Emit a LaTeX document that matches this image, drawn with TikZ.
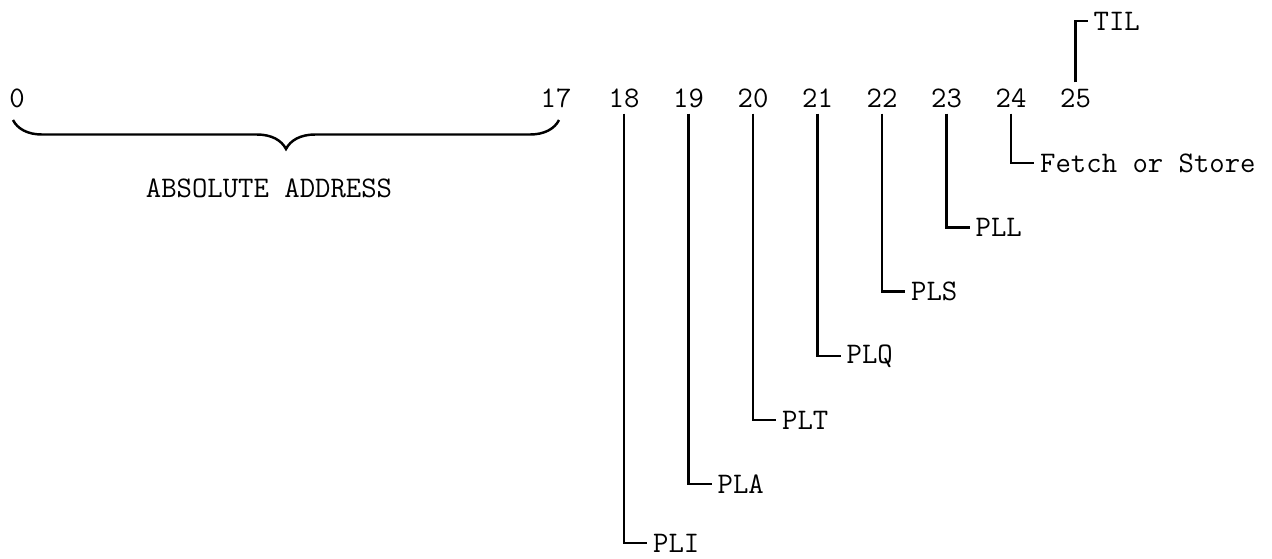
\documentclass[tikz,border=0pt]{standalone}
\usetikzlibrary{decorations.pathreplacing}
\begin{document}
\begin{tikzpicture}[x=1cm,y=1cm]
\tikzset{
    bit/.style={font=\fontsize{17}{20}\selectfont\ttfamily},
    flag/.style={font=\fontsize{17}{20}\selectfont\ttfamily,anchor=west},
    lead/.style={line width=1.4pt},
    bracket/.style={line width=1.4pt,decorate,decoration={brace,mirror,amplitude=0.58cm}}
}
\useasboundingbox (0,0) rectangle (25.44,-11.16);
% bit numbers
\node[bit] (b0) at (0.34,-1.96) {0};
\node[bit] (b17) at (11.12,-1.96) {17};
\node[bit] (b18) at (12.48,-1.96) {18};
\node[bit] (b19) at (13.77,-1.96) {19};
\node[bit] (b20) at (15.06,-1.96) {20};
\node[bit] (b21) at (16.35,-1.96) {21};
\node[bit] (b22) at (17.64,-1.96) {22};
\node[bit] (b23) at (18.93,-1.96) {23};
\node[bit] (b24) at (20.22,-1.96) {24};
\node[bit] (b25) at (21.51,-1.96) {25};

% address field
\coordinate (brl) at (0.26,-2.40);
\coordinate (brr) at (11.18,-2.40);
\draw[bracket] (brl) -- (brr);
\node[bit] (addr) at (5.38,-3.76) {ABSOLUTE ADDRESS};

% single-bit fields
\node[flag] (pli) at (12.94,-10.86) {PLI};
\node[flag] (pla) at (14.23,-9.68) {PLA};
\node[flag] (plt) at (15.52,-8.40) {PLT};
\node[flag] (plq) at (16.81,-7.12) {PLQ};
\node[flag] (pls) at (18.10,-5.83) {PLS};
\node[flag] (pll) at (19.39,-4.55) {PLL};
\node[flag] (fos) at (20.68,-3.26) {Fetch or Store};
\node[flag] (til) at (21.75,-0.42) {TIL};
\draw[lead] (b18) |- (pli);
\draw[lead] (b19) |- (pla);
\draw[lead] (b20) |- (plt);
\draw[lead] (b21) |- (plq);
\draw[lead] (b22) |- (pls);
\draw[lead] (b23) |- (pll);
\draw[lead] (b24) |- (fos);
\draw[lead] (b25) |- (til);
\end{tikzpicture}
\end{document}
